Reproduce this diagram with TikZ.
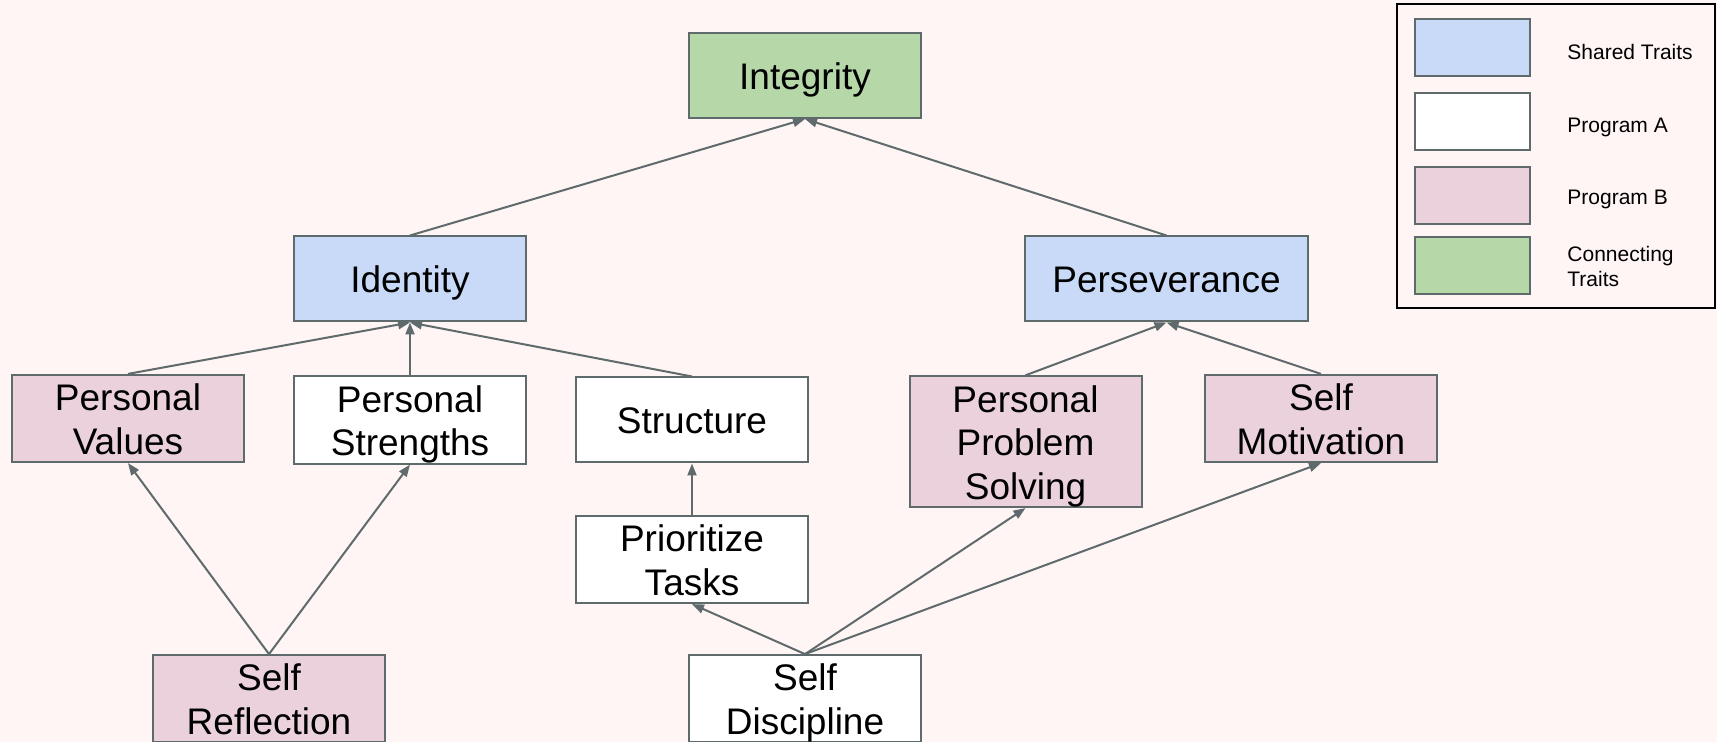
\documentclass[tikz,border=0pt]{standalone}
\usepackage{fontspec}
\setmainfont{Liberation Sans}
\usetikzlibrary{arrows.meta}
\definecolor{bgpink}{HTML}{FFF5F5}
\definecolor{sharedblue}{HTML}{C9DAF8}
\definecolor{progbpink}{HTML}{EAD1DC}
\definecolor{connectgreen}{HTML}{B6D7A8}
\definecolor{edgegrey}{HTML}{5E6A6C}
% uniform line box so every label line sits at the same optical height
\newcommand{\bs}{\vrule height 17.9pt depth 3.9pt width 0pt}
\begin{document}
\begin{tikzpicture}[x=0.5pt,y=-0.5pt,
  box/.style={draw=edgegrey, line width=1pt, rectangle, minimum width=116pt,
    minimum height=42.5pt, inner sep=0pt, align=center,
    font=\fontsize{18.5}{21.8}\selectfont},
  shared/.style={box, fill=sharedblue},
  proga/.style={box, fill=white},
  progb/.style={box, fill=progbpink},
  connecting/.style={box, fill=connectgreen},
  link/.style={draw=edgegrey, line width=1pt, -{Triangle[length=6pt,width=4.5pt]}},
  swatch/.style={draw=edgegrey, line width=1pt, minimum width=57.5pt,
    minimum height=28.5pt, inner sep=0pt},
  legendtext/.style={anchor=base west, align=left,
    font=\fontsize{10.5}{12.5}\selectfont, inner sep=0pt}
]
\fill[bgpink] (0,0) rectangle (1717,742);
\useasboundingbox (0,0) rectangle (1717,742);

% trait boxes
\node[connecting] (integrity) at (805,75.5) {\bs Integrity};
\node[shared] (identity) at (410,279) {\bs Identity};
\node[shared, minimum width=141.5pt] (perseverance) at (1166.5,279) {\bs Perseverance};
\node[progb] (pvalues) at (128,418.5) {\bs Personal\\\bs Values};
\node[proga] (pstrengths) at (410,420) {\bs Personal\\\bs Strengths};
\node[proga] (structure) at (692,420) {\bs Structure};
\node[proga] (prioritize) at (692,559.5) {\bs Prioritize\\\bs Tasks};
\node[progb, minimum height=64pt] (problem) at (1025.5,441.7) {\bs Personal\\\bs Problem\\\bs Solving};
\node[progb] (motivation) at (1321,418.5) {\bs Self\\\bs Motivation};
\node[progb] (reflection) at (269,698.7) {\bs Self\\\bs Reflection};
\node[proga] (discipline) at (805,698.7) {\bs Self\\\bs Discipline};

% connectors
\draw[link] (identity.north) -- (integrity.south);
\draw[link] (perseverance.north) -- (integrity.south);
\draw[link] (pvalues.north) -- (identity.south);
\draw[link] (pstrengths.north) -- (identity.south);
\draw[link] (structure.north) -- (identity.south);
\draw[link] (problem.north) -- (perseverance.south);
\draw[link] (motivation.north) -- (perseverance.south);
\draw[link] (reflection.north) -- (pvalues.south);
\draw[link] (reflection.north) -- (pstrengths.south);
\draw[link] (prioritize.north) -- (structure.south);
\draw[link] (discipline.north) -- (prioritize.south);
\draw[link] (discipline.north) -- (problem.south);
\draw[link] (discipline.north) -- (motivation.south);

% legend
\node[draw=black, line width=1.2pt, fill=bgpink, minimum width=159pt,
  minimum height=152pt, inner sep=0pt] (legend) at (1556,156) {};
\node[swatch, fill=sharedblue] (swshared) at (1472.5,48) {};
\node[swatch, fill=white] (swproga) at (1472.5,121.5) {};
\node[swatch, fill=progbpink] (swprogb) at (1472.5,195.5) {};
\node[swatch, fill=connectgreen] (swconnect) at (1472.5,265.5) {};
\node[legendtext] (lbshared) at (1567,59.3) {Shared Traits};
\node[legendtext] (lbproga) at (1567,132.3) {Program A};
\node[legendtext] (lbprogb) at (1567,204.7) {Program B};
\node[legendtext] (lbconnect) at (1567,287) {Connecting\\Traits};
\end{tikzpicture}
\end{document}
